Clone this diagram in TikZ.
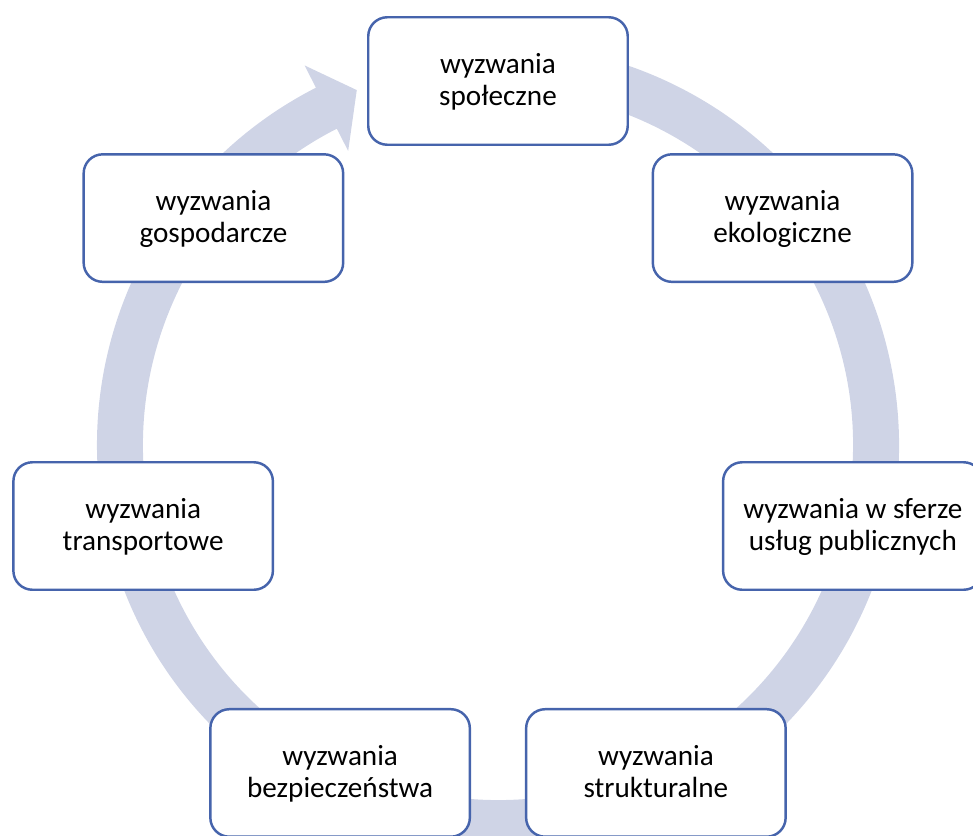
\documentclass[tikz,border=0pt]{standalone}
\usepackage{fontspec}
\setmainfont{Carlito}
\definecolor{ringcol}{HTML}{CFD4E6}
\definecolor{linecol}{HTML}{4664AC}
\begin{document}
\begin{tikzpicture}
		[box/.style={draw=linecol,line width=1.4pt,fill=white,rounded corners=0.38cm,
			minimum width=5.19cm,minimum height=2.55cm,align=center,
			font=\fontsize{16.6}{18.1}\selectfont,
			text height=31.5pt,text depth=3.4pt},
		ring/.style={fill=ringcol}]
		
		\useasboundingbox (-9.96,-7.8) rectangle (9.5,8.9);
		\clip (-9.96,-7.8) rectangle (9.5,8.9);
		
		% cycle arrow behind the boxes
		\fill[ring] (100:8.02) arc[start angle=100,end angle=-243,radius=8.02]
			-- (-243:8.52) -- (-248.3:7.64) -- (-243:6.6) -- (-243:7.1)
			arc[start angle=-243,end angle=100,radius=7.1] -- cycle;
		
		\node[box] (n1) at (90:7.28) {wyzwania\\społeczne};
		
		\node[box] (n2) at (38.57:7.28) {wyzwania\\ekologiczne};
		
		\node[box] (n3) at (-12.86:7.28) {wyzwania w sferze\\usług publicznych};
		
		\node[box] (n4) at (-64.29:7.28) {wyzwania\\strukturalne};
		
		\node[box] (n5) at (-115.71:7.28) {wyzwania\\bezpieczeństwa};
		
		\node[box] (n6) at (-167.14:7.28) {wyzwania\\transportowe};
		
		\node[box] (n7) at (141.43:7.28) {wyzwania\\gospodarcze};
		
	\end{tikzpicture}
\end{document}
